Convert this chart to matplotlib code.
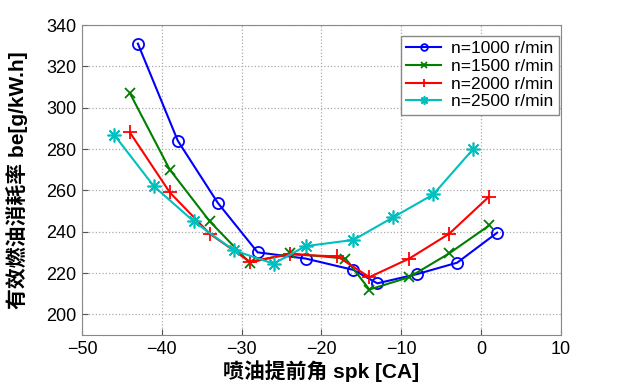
import matplotlib
matplotlib.use("Agg")
import matplotlib.pyplot as plt

x1000 = [-43, -38, -33, -28, -22, -16, -13, -8, -3, 2]
y1000 = [331, 284, 254, 230, 227, 221.5, 215, 219.5, 225, 239.5]
x1500 = [-44, -39, -34, -29, -24, -17, -14, -9, -4, 1]
y1500 = [307, 270, 245, 225, 229.5, 227, 212, 218, 229.5, 243]
x2000 = [-44, -39, -34, -29, -24, -18, -14, -9, -4, 1]
y2000 = [288, 259, 239, 225.5, 229, 228, 218, 227, 239, 257]
x2500 = [-46, -41, -36, -31, -26, -22, -16, -11, -6, -1]
y2500 = [287, 262, 245, 231, 224.5, 233, 236, 247, 258, 280]
labels = ["n=1000 r/min", "n=1500 r/min", "n=2000 r/min", "n=2500 r/min"]
xticks = [-50, -40, -30, -20, -10, 0, 10]
yticks = [200, 220, 240, 260, 280, 300, 320, 340]

fams = ["Liberation Sans", "Noto Sans CJK SC", "DejaVu Sans"]
plt.rcParams['font.family'] = fams

fig = plt.figure(figsize=(6.24, 3.92), dpi=100)
ax = fig.add_axes([0.1314, 0.1454, 0.7676, 0.7908])

ax.plot(x1000, y1000, color='#0000ff', lw=1.5, marker='o', ms=8, mfc='none', mew=1.3, label=labels[0])
ax.plot(x1500, y1500, color='#007f00', lw=1.5, marker='x', ms=7, mew=1.3, label=labels[1])
ax.plot(x2000, y2000, color='#ff0000', lw=1.5, marker='+', ms=10, mew=1.3, label=labels[2])
ax.plot(x2500, y2500, color='#00bfbf', lw=1.5, marker=(8, 2, 0), ms=10, mew=1.2, label=labels[3])

ax.set_xlim(-50, 10)
ax.set_ylim(190, 340)
ax.set_xticks(xticks)
ax.set_yticks(yticks)
ax.tick_params(direction='in', labelsize=13, length=4, color='#555555', pad=4)
for s in ax.spines.values():
    s.set_color('#888888')
ax.grid(True, linestyle=':', color='#aaaaaa', lw=0.9)

ax.set_xlabel("喷油提前角 spk [CA]", fontsize=15, fontweight='bold', labelpad=2)
ax.set_ylabel("有效燃油消耗率 be[g/kW.h]", fontsize=15, fontweight='bold', labelpad=2)
ax.yaxis.set_label_coords(-0.113, 0.5)

leg = ax.legend(loc='upper right', fontsize=12.5, fancybox=False, framealpha=1, edgecolor='#888888',
                handlelength=2.0, handletextpad=0.6, borderpad=0.3, labelspacing=0.15, markerscale=0.6,
                bbox_to_anchor=(0.996, 0.965), borderaxespad=0)
leg.get_frame().set_linewidth(1.0)

fig.savefig("out.png", dpi=100)
